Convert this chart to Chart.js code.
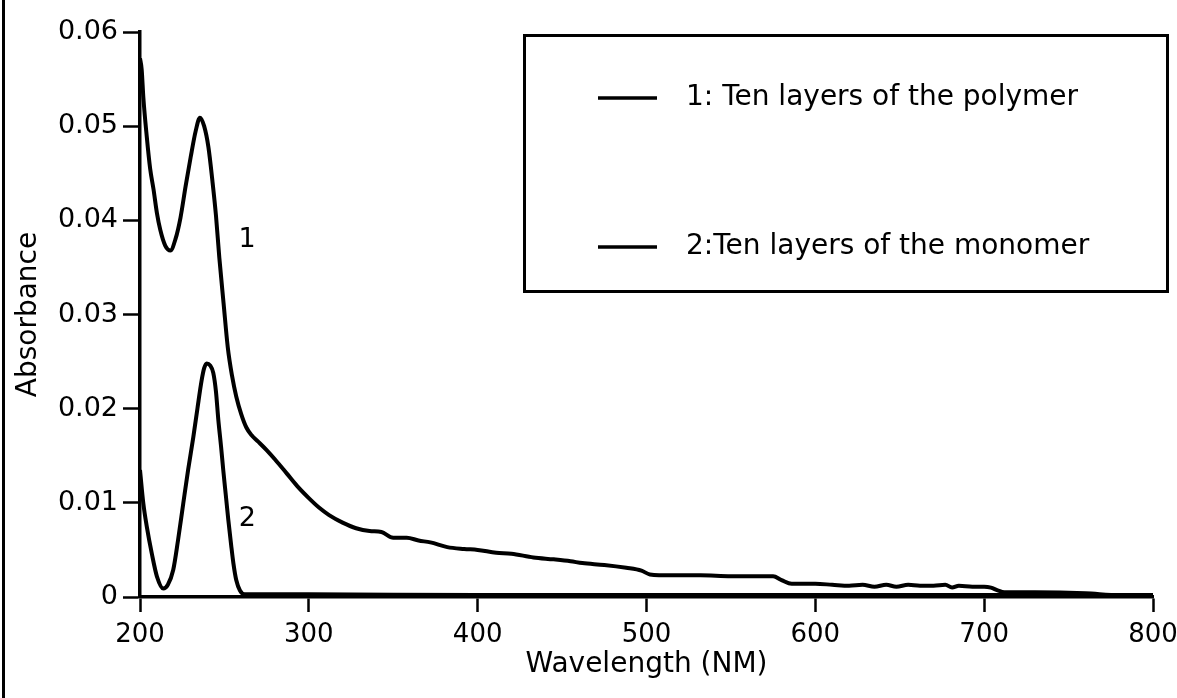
<!DOCTYPE html>
<html>
<head>
<meta charset="utf-8">
<script src="https://cdn.jsdelivr.net/npm/chart.js@4"></script>
<style>
  html, body { margin: 0; padding: 0; background: #fff; }
  canvas { display: block; }
</style>
</head>
<body>
<canvas id="chart" width="1177" height="698"></canvas>
<script>
// curve 1: ten layers of the polymer
const wavelength1 = [200, 201, 202, 204, 206, 208, 210, 212, 215, 218, 221, 224, 227, 230, 233, 235.5, 238, 240.5, 243, 245, 247, 249.5, 252, 254.5, 257, 260, 263, 266, 270, 275, 280, 287, 293, 300, 306, 312, 320, 328, 336, 343, 350, 358, 365, 372, 382, 392, 400, 411, 420, 433, 445, 455, 462, 475, 488, 497, 502, 515, 532, 550, 575, 580, 586, 600, 610, 620, 628, 635, 642, 648, 655, 662, 670, 677, 681, 685, 693, 700, 704, 708, 712, 730, 760, 780, 800];
const absorbance1 = [0.0572, 0.0560, 0.0530, 0.0489, 0.0455, 0.0433, 0.0408, 0.0390, 0.0373, 0.0368, 0.0380, 0.0403, 0.0436, 0.0467, 0.0495, 0.0509, 0.0500, 0.0478, 0.0440, 0.0405, 0.0360, 0.0312, 0.0265, 0.0235, 0.0213, 0.0194, 0.0180, 0.0172, 0.0165, 0.0156, 0.0146, 0.0131, 0.0118, 0.0105, 0.0095, 0.0087, 0.0079, 0.0073, 0.0070, 0.0069, 0.0063, 0.0063, 0.0060, 0.0058, 0.0053, 0.0051, 0.0050, 0.0047, 0.0046, 0.0042, 0.0040, 0.0038, 0.0036, 0.0034, 0.0031, 0.0028, 0.0024, 0.0023, 0.0023, 0.0022, 0.0022, 0.0018, 0.0014, 0.0014, 0.0013, 0.0012, 0.0013, 0.0011, 0.0013, 0.0011, 0.0013, 0.0012, 0.0012, 0.0013, 0.0010, 0.0012, 0.0011, 0.0011, 0.0010, 0.0007, 0.0005, 0.0005, 0.0004, 0.0002, 0.0002];

// curve 2: ten layers of the monomer
const wavelength2 = [200, 202, 204, 207, 210, 213.8, 216.5, 219.7, 222.5, 225.6, 228.5, 231.6, 234, 236.5, 238, 239.5, 241.5, 243.4, 245, 246.4, 248, 249.3, 251, 252.3, 254, 255.3, 257, 259.2, 262, 300, 400, 500, 600, 700, 800];
const absorbance2 = [0.0135, 0.0099, 0.0075, 0.0046, 0.0022, 0.0009, 0.0013, 0.0029, 0.0060, 0.0099, 0.0135, 0.0170, 0.0200, 0.0230, 0.0243, 0.0248, 0.0246, 0.0238, 0.0218, 0.0188, 0.0160, 0.0135, 0.0105, 0.0082, 0.0055, 0.0036, 0.0018, 0.0007, 0.0003, 0.0003, 0.0002, 0.0002, 0.0002, 0.0002, 0.0002];

const seriesLabels = ['1: Ten layers of the polymer', '2:Ten layers of the monomer'];
const curveTags = ['1', '2'];

const xTickValues = [200, 300, 400, 500, 600, 700, 800];
const xTickLabels = ['200', '300', '400', '500', '600', '700', '800'];
const yTickValues = [0, 0.01, 0.02, 0.03, 0.04, 0.05, 0.06];
const yTickLabels = ['0', '0.01', '0.02', '0.03', '0.04', '0.05', '0.06'];

// where the curve numbers sit, in data units
const tagAnchors = [[263.4, 0.0379], [263.6, 0.0083]];

const FONT = '"DejaVu Sans", sans-serif';
Chart.defaults.font.family = FONT;
Chart.defaults.color = '#000';

const decorations = {
  id: 'decorations',
  afterDraw(chart) {
    const {ctx, scales: {x, y}} = chart;
    ctx.save();
    ctx.fillStyle = '#000';
    ctx.strokeStyle = '#000';

    // edge of the scanned page
    ctx.fillRect(2, 0, 3, chart.height);

    // curve numbers
    ctx.font = '27px ' + FONT;
    ctx.textAlign = 'center';
    ctx.textBaseline = 'middle';
    curveTags.forEach((t, i) => {
      ctx.fillText(t, x.getPixelForValue(tagAnchors[i][0]), y.getPixelForValue(tagAnchors[i][1]));
    });

    // boxed legend
    ctx.lineWidth = 3;
    ctx.strokeRect(524.5, 35.5, 643, 256);
    ctx.font = '28px ' + FONT;
    ctx.textAlign = 'left';
    ctx.lineWidth = 3.5;
    const rows = [98, 247];
    seriesLabels.forEach((label, i) => {
      ctx.beginPath();
      ctx.moveTo(598, rows[i]);
      ctx.lineTo(657, rows[i]);
      ctx.stroke();
      ctx.fillText(label, 686, rows[i]);
    });
    ctx.restore();
  }
};

const ctx = document.getElementById('chart').getContext('2d');
const chart = new Chart(ctx, {
  type: 'line',
  data: {
    datasets: [
      {
        label: seriesLabels[0],
        data: wavelength1.map((w, i) => ({x: w, y: absorbance1[i]})),
        borderColor: '#000',
        borderWidth: 4,
        pointRadius: 0,
        cubicInterpolationMode: 'monotone',
        fill: false
      },
      {
        label: seriesLabels[1],
        data: wavelength2.map((w, i) => ({x: w, y: absorbance2[i]})),
        borderColor: '#000',
        borderWidth: 4,
        pointRadius: 0,
        cubicInterpolationMode: 'monotone',
        fill: false
      }
    ]
  },
  options: {
    responsive: false,
    animation: false,
    devicePixelRatio: 1,
    layout: {
      padding: {top: 32, right: 24, left: 0, bottom: 0}
    },
    plugins: {
      legend: {display: false},
      tooltip: {enabled: false}
    },
    scales: {
      x: {
        type: 'linear',
        min: 200,
        max: 800,
        afterBuildTicks: scale => { scale.ticks = xTickValues.map(v => ({value: v})); },
        afterFit: scale => {
          scale.height = 101;
          scale.paddingLeft = 0;
          scale.paddingRight = 0;
        },
        border: {display: true, color: '#000', width: 3.5},
        grid: {
          drawOnChartArea: false,
          drawTicks: true,
          tickLength: 15,
          tickWidth: 2.5,
          tickColor: '#000'
        },
        ticks: {
          color: '#000',
          padding: 8,
          maxRotation: 0,
          font: {size: 26},
          callback: (v, i) => xTickLabels[i]
        },
        title: {
          display: true,
          text: 'Wavelength (NM)',
          color: '#000',
          font: {size: 28},
          padding: {top: 0, bottom: 16}
        }
      },
      y: {
        min: 0,
        max: 0.06,
        afterBuildTicks: scale => { scale.ticks = yTickValues.map(v => ({value: v})); },
        afterFit: scale => { scale.width = 140; },
        border: {display: true, color: '#000', width: 3.5},
        grid: {
          drawOnChartArea: false,
          drawTicks: true,
          tickLength: 17,
          tickWidth: 2.5,
          tickColor: '#000'
        },
        ticks: {
          color: '#000',
          padding: 5,
          font: {size: 27},
          callback: (v, i) => yTickLabels[i]
        },
        title: {
          display: true,
          text: 'Absorbance',
          color: '#000',
          font: {size: 28},
          padding: {top: 12, bottom: 0}
        }
      }
    }
  },
  plugins: [decorations]
});
</script>
</body>
</html>
